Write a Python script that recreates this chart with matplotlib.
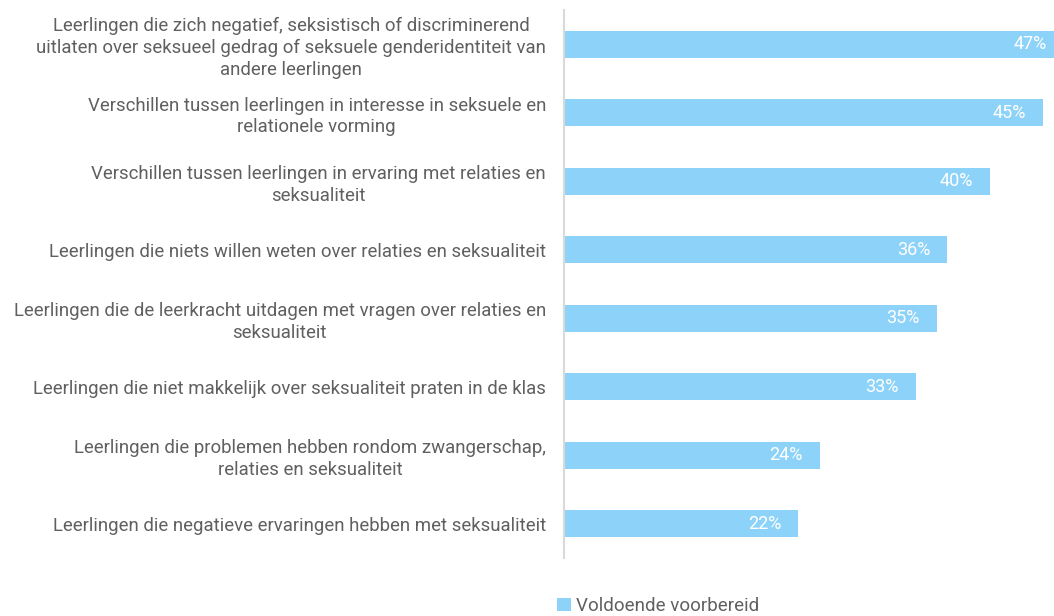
import matplotlib.pyplot as plt

plt.rcParams['font.family'] = ['Roboto', 'DejaVu Sans']

categories = [
    "Leerlingen die zich negatief, seksistisch of discriminerend\nuitlaten over seksueel gedrag of seksuele genderidentiteit van\nandere leerlingen",
    "Verschillen tussen leerlingen in interesse in seksuele en\nrelationele vorming",
    "Verschillen tussen leerlingen in ervaring met relaties en\nseksualiteit",
    "Leerlingen die niets willen weten over relaties en seksualiteit",
    "Leerlingen die de leerkracht uitdagen met vragen over relaties en\nseksualiteit",
    "Leerlingen die niet makkelijk over seksualiteit praten in de klas",
    "Leerlingen die problemen hebben rondom zwangerschap,\nrelaties en seksualiteit",
    "Leerlingen die negatieve ervaringen hebben met seksualiteit",
]
values = [47, 45, 40, 36, 35, 33, 24, 22]
series_name = "Voldoende voorbereid"

bar_color = "#8DD3F9"
text_color = "#606060"

fig = plt.figure(figsize=(10.54, 6.16), dpi=100)
ax = fig.add_axes([564 / 1054, 58 / 616, 490 / 1054, 548 / 616])

y = list(range(len(categories)))
bars = ax.barh(y, values, height=0.4, color=bar_color, label=series_name)
ax.set_ylim(len(categories) - 0.5, -0.5)
ax.set_xlim(0, 46)

for b, v in zip(bars, values):
    ax.annotate(f"{v}%", xy=(v, b.get_y() + b.get_height() / 2),
                xytext=(-34, 0), textcoords="offset pixels",
                ha="center", va="center", color="white", fontsize=13,
                annotation_clip=False)

ax.set_yticks(y)
ax.set_yticklabels(categories, fontsize=13.45, color=text_color,
                   multialignment="center", linespacing=1.25)
ax.tick_params(axis="y", length=0, pad=13)
ax.set_xticks([])
for side in ["top", "right", "bottom"]:
    ax.spines[side].set_visible(False)
ax.spines["left"].set_color("#d9d9d9")
ax.spines["left"].set_linewidth(1.5)

fig.legend(handles=[bars], labels=[series_name], loc="center left",
           bbox_to_anchor=(540 / 1054, 1 - 606 / 616), frameon=False,
           handlelength=0.75, handleheight=0.75, handletextpad=0.25,
           prop={"size": 13.5}, labelcolor=text_color)

fig.savefig("out.png", dpi=100)
